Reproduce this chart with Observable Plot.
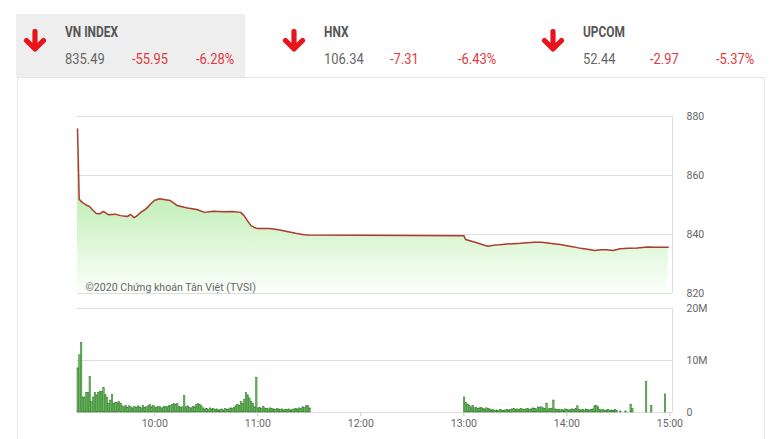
<!DOCTYPE html>
<html><head><meta charset="utf-8">
<script src="https://cdn.jsdelivr.net/npm/d3@7"></script>
<script src="https://cdn.jsdelivr.net/npm/@observablehq/plot@0.6"></script>
<style>
body{margin:0;width:780px;height:439px;overflow:hidden;background:#fff;font-family:Roboto,"Noto Sans",sans-serif;position:relative}
.abs{position:absolute;white-space:nowrap}
.name{font-size:14px;line-height:14px;font-weight:700;color:#555;transform:scaleX(0.85);transform-origin:left}
.num{font-size:15px;line-height:15px;color:#666;transform:scaleX(0.86);transform-origin:left}
.red{color:#e03a3c}
</style></head><body>
<div class="abs" style="left:17px;top:77px;width:746px;height:380px;border:1px solid #e6e6e6"></div>
<div class="abs" style="left:16px;top:14px;width:229px;height:63px;background:#eeeeee"></div>
<div id="header"></div>
<div id="price" class="abs" style="left:0;top:100px"></div>
<div id="vol" class="abs" style="left:0;top:300px"></div>
<script>
// ---- header data ----
const indexNames = ["VN INDEX", "HNX", "UPCOM"];
const indexValues = ["835.49", "106.34", "52.44"];
const indexChanges = ["-55.95", "-7.31", "-2.97"];
const indexPercents = ["-6.28%", "-6.43%", "-5.37%"];

// ---- price line (time, VN-Index) ----
const priceTimes = ["9:15","9:16","9:18","9:20","9:22","9:24","9:26","9:28","9:30","9:33","9:37","9:40","9:44","9:46","9:48","9:50","9:52","9:54","9:56","9:58","10:00","10:03","10:06","10:09","10:11","10:13","10:16","10:19","10:22","10:25","10:29","10:34","10:40","10:45","10:50","10:52","10:54","10:56","10:58","11:00","11:07","11:12","11:17","11:22","11:27","11:30","13:00","13:01","13:04","13:08","13:11","13:14","13:18","13:21","13:25","13:29","13:33","13:37","13:41","13:45","13:49","13:52","13:56","14:00","14:04","14:08","14:12","14:16","14:20","14:23","14:27","14:31","14:36","14:41","14:47","14:52","14:59"];
const priceValues = [875.8,851.9,850.8,850.0,849.5,848.2,847.1,847.0,847.8,846.7,846.9,846.4,846.1,846.8,845.7,846.5,847.6,848.3,849.3,850.6,851.6,852.1,851.8,851.5,850.7,849.8,849.4,849.0,848.7,848.4,847.5,847.9,847.7,847.8,847.5,846.4,844.6,843.0,842.4,842.0,842.0,841.6,841.0,840.4,839.9,839.8,839.6,838.3,837.8,837.1,836.5,836.0,836.4,836.5,836.8,836.9,837.0,837.2,837.4,837.4,837.1,836.9,836.6,836.2,835.8,835.3,835.0,834.6,834.8,834.8,834.6,835.2,835.3,835.4,835.8,835.7,835.7];

// ---- volume per minute (millions of shares) ----
const morningStart = "9:15";
const morningVolume = [8.5,11.0,13.4,2.9,2.9,3.8,3.8,6.8,2.0,2.9,3.8,3.3,3.8,4.0,4.0,4.7,3.4,2.9,1.7,2.3,3.4,1.7,1.8,1.8,2.0,1.7,1.2,
  1.0,1.3,0.9,1.2,1.0,0.8,1.1,0.9,1.2,1.0,0.8,1.3,0.9,1.0,1.2,
  1.4,1.0,1.3,1.0,0.9,1.1,1.0,0.8,1.0,1.1,1.0,1.2,1.3,
  1.5,1.6,1.4,1.6,1.1,0.9,1.0,
  3.2,
  1.0,1.2,0.9,0.8,1.1,1.0,
  1.4,1.6,1.5,1.2,0.8,
  0.6,0.7,0.5,0.8,0.6,0.7,0.5,0.6,0.4,0.5,0.6,0.4,0.7,0.5,0.6,0.8,0.7,0.9,
  1.2,1.5,1.3,2.0,1.6,2.4,3.8,3.3,2.7,2.0,1.7,1.0,
  6.7,
  0.8,0.9,0.7,1.1,0.8,0.7,0.6,0.8,0.7,0.6,0.5,0.7,0.6,0.5,0.6,0.4,0.5,0.5,0.6,0.4,0.5,0.6,0.7,
  0.6,0.8,0.7,1.0,0.9,1.2,1.3,0.8];
const afternoonStart = "13:00";
const afternoonVolume = [2.9,1.8,1.5,1.3,1.0,1.3,
  0.8,0.9,0.7,0.8,0.9,0.7,0.6,0.8,0.7,0.6,
  0.4,0.5,0.3,0.4,0.3,0.5,0.4,0.3,0.4,0.5,0.4,
  0.5,0.6,0.7,0.5,0.6,0.5,0.7,0.6,0.5,0.6,0.7,0.5,0.6,0.8,0.7,0.6,
  1.0,0.9,1.0,0.8,0.7,
  1.7,
  0.6,0.7,0.7,
  2.3,
  0.6,0.5,0.5,0.4,0.5,0.4,0.6,0.5,0.4,0.5,0.6,0.5,0.7,
  1.2,
  0.5,0.4,0.5,0.4,0.6,0.5,0.4,0.5,0.6,
  1.2,1.3,1.0,
  0.5,0.4,0.5,0.3,0.4,0.5,0.3,0.4,0.3,0.5,0.3,
  0,0.2,0,0,0.2,0,0,1.5,0.7,
  0,0,0,0,0,0,0,5.9,0,0,1.3,0,0,0,0,0,0,0,3.5];

const timeTicks = ["10:00","11:00","12:00","13:00","14:00","15:00"];
const priceTicks = [820, 840, 860, 880];
const volumeTicks = [0, 10, 20];
const copyright = "©2020 Chứng khoán Tân Việt (TVSI)";

// ---- helpers ----
const t = s => { const [h, m] = s.split(":").map(Number); return new Date(Date.UTC(2020, 0, 1, h, 0) + m * 60000); };
const addMin = (d, n) => new Date(+d + n * 60000);

// ---- header ----
const header = document.getElementById("header");
const arrowSvg = `<svg width="24" height="24" viewBox="0 0 24 24"><path d="M12 2.5V19.5M3.5 11.5L12 20L20.5 11.5" fill="none" stroke="#e8141b" stroke-width="5.2" stroke-linecap="round" stroke-linejoin="round"/></svg>`;
const colX = [65, 324, 583], chgX = [132, 390, 650], pctX = [196, 458, 716], arrowX = [23, 282, 541];
indexNames.forEach((n, i) => {
  header.insertAdjacentHTML("beforeend",
    `<div class="abs" style="left:${arrowX[i]}px;top:29px">${arrowSvg}</div>
     <div class="abs name" style="left:${colX[i]}px;top:25px">${n}</div>
     <div class="abs num" style="left:${colX[i]}px;top:52px">${indexValues[i]}</div>
     <div class="abs num red" style="left:${chgX[i]}px;top:52px">${indexChanges[i]}</div>
     <div class="abs num red" style="left:${pctX[i]}px;top:52px">${indexPercents[i]}</div>`);
});

// ---- shared x ----
const xDomain = [t("9:15"), t("15:01.5")];
const priceData = priceTimes.map((s, i) => ({time: t(s), value: priceValues[i]}));
const volData = [
  ...morningVolume.map((v, i) => ({t0: addMin(t(morningStart), i), t1: addMin(t(morningStart), i + 0.85), v})),
  ...afternoonVolume.map((v, i) => ({t0: addMin(t(afternoonStart), i), t1: addMin(t(afternoonStart), i + 0.85), v}))
].filter(d => d.v > 0);

const axisStyle = {background: "transparent", fontFamily: "Roboto, sans-serif", fontSize: "10.5px", color: "#666", overflow: "visible"};

const price = Plot.plot({
  width: 780, height: 200,
  marginLeft: 77, marginRight: 108, marginTop: 16, marginBottom: 7,
  style: axisStyle,
  x: {type: "utc", domain: xDomain, axis: null},
  y: {domain: [820, 880], label: null},
  marks: [
    Plot.gridY(priceTicks, {stroke: "#dddddd", strokeOpacity: 1}),
    Plot.ruleX([xDomain[1]], {stroke: "#dddddd"}),
    Plot.areaY(priceData, {x: "time", y1: 820, y2: "value", fill: "url(#vnGrad)"}),
    Plot.lineY(priceData, {x: "time", y: "value", stroke: "#ad3a2c", strokeWidth: 1.5}),
    Plot.text([copyright], {frameAnchor: "bottom-left", dx: 8, dy: -3, fill: "#666", fontSize: 10.6, textAnchor: "start"}),
    Plot.axisY(priceTicks, {anchor: "right", label: null, tickSize: 0, tickPadding: 14, fill: "#666"})
  ]
});
d3.select(price).insert("defs", ":first-child").html(
  `<linearGradient id="vnGrad" gradientUnits="userSpaceOnUse" x1="0" y1="95" x2="0" y2="193">
     <stop offset="0" stop-color="#c0eeb6"/><stop offset="0.55" stop-color="#e2f8dc"/><stop offset="1" stop-color="#fcfffb"/>
   </linearGradient>`);
document.getElementById("price").append(price);

const vol = Plot.plot({
  width: 780, height: 139,
  marginLeft: 77, marginRight: 108, marginTop: 8, marginBottom: 27,
  style: axisStyle,
  x: {type: "utc", domain: xDomain, label: null},
  y: {domain: [0, 20], label: null},
  marks: [
    Plot.gridY(volumeTicks, {stroke: "#dddddd", strokeOpacity: 1}),
    Plot.ruleX([xDomain[1]], {stroke: "#dddddd"}),
    Plot.rectY(volData, {x1: "t0", x2: "t1", y1: 0, y2: "v", fill: "#6cbf5e", stroke: "#2c7628", strokeWidth: 0.5}),
    Plot.axisY(volumeTicks, {anchor: "right", label: null, tickSize: 0, tickPadding: 14, fill: "#666", tickFormat: d => d ? d + "M" : "0"}),
    Plot.axisX(timeTicks.map(t), {label: null, tickSize: 4, tickPadding: 3, stroke: "#cccccc", fill: "#666", tickFormat: d3.utcFormat("%H:%M")})
  ]
});
document.getElementById("vol").append(vol);
</script>
</body></html>
